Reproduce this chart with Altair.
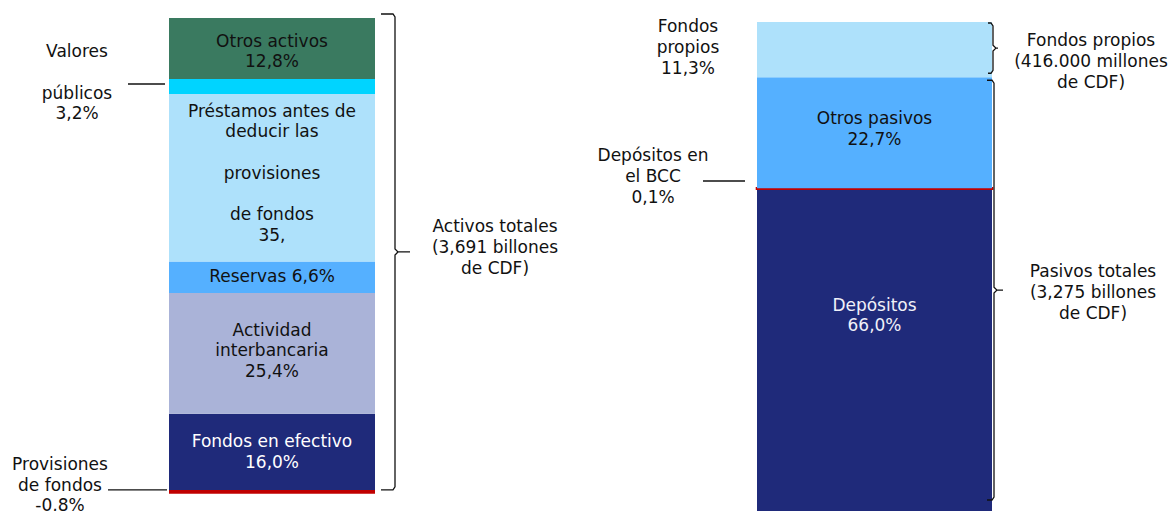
import altair as alt
import pandas as pd

# ---------------- data ----------------
asset_names = ["Provisiones de fondos", "Fondos en efectivo", "Actividad interbancaria",
               "Reservas", "Préstamos antes de deducir las provisiones de fondos",
               "Valores públicos", "Otros activos"]
asset_shares = [-0.8, 16.0, 25.4, 6.6, 35.2, 3.2, 12.8]
asset_inner = ["", "Fondos en efectivo\n16,0%", "Actividad\ninterbancaria\n25,4%",
               "Reservas 6,6%",
               "Préstamos antes de\ndeducir las\n\nprovisiones\n\nde fondos\n35,",
               "", "Otros activos\n12,8%"]

liab_names = ["Depósitos", "Depósitos en el BCC", "Otros pasivos", "Fondos propios"]
liab_shares = [66.0, 0.1, 22.7, 11.3]
liab_inner = ["Depósitos\n66,0%", "", "Otros pasivos\n22,7%", ""]

callout_valores = "Valores\n\npúblicos\n3,2%"
callout_provis = "Provisiones\nde fondos\n-0,8%"
callout_fp = "Fondos\npropios\n11,3%"
callout_bcc = "Depósitos en\nel BCC\n0,1%"
brace_activos = "Activos totales\n(3,691 billones\nde CDF)"
brace_fp = "Fondos propios\n(416.000 millones\nde CDF)"
brace_pasivos = "Pasivos totales\n(3,275 billones\nde CDF)"

# ---------------- styles / layout ----------------
asset_colors = ["#c00000", "#1f2a7a", "#aab3d8", "#55b0ff", "#aee1fb", "#00d4ff", "#3a7a60"]
liab_colors = ["#1f2a7a", "#c00000", "#55b0ff", "#aee1fb"]
asset_tcolor = ["#111111", "#ffffff", "#111111", "#111111", "#111111", "#111111", "#111111"]
liab_tcolor = ["#f0f0f8", "#111111", "#111111", "#111111"]
asset_nudge = [0, 1, -2, 0, -4, 0, 3.5]      # px, downward
liab_nudge = [-34, 0, -3.5, 0]

FONT = "DejaVu Sans"
FS = 17
LH = 20.7
W, H = 1160, 503
kL, kR = 4.757, 4.89          # px per percentage point
topL_px, topR_px = 10, 14     # top of each stack in plot px
L_X0, L_X1 = 161, 367
R_X0, R_X1 = 749, 984


def stack(shares):
    base = sum(s for s in shares if s < 0)
    lo, hi, cur = [], [], base
    for s in shares:
        lo.append(cur)
        hi.append(cur + abs(s))
        cur += abs(s)
    return lo, hi


def lines_of(text, x, center, k, color="#111111"):
    """Split a block into one row per line, centred vertically on `center`."""
    parts = text.split("\n")
    n = len(parts)
    rows = []
    for i, p in enumerate(parts):
        if p == "":
            continue
        rows.append({"tx": x, "ty": center - (i - (n - 1) / 2) * LH / k,
                     "t": p, "tc": color})
    return rows


loL, hiL = stack(asset_shares)
loR, hiR = stack(liab_shares)
topL, topR = hiL[-1], hiR[-1]
dL1 = topL + topL_px / kL
dL0 = dL1 - H / kL
dR1 = topR + topR_px / kR
dR0 = dR1 - H / kR

xs = alt.Scale(domain=[0, W], nice=False, zero=False)
ysL = alt.Scale(domain=[dL0, dL1], nice=False, zero=False)
ysR = alt.Scale(domain=[dR0, dR1], nice=False, zero=False)

dfL = pd.DataFrame({"name": asset_names, "lo": loL, "hi": hiL, "color": asset_colors})
dfL["x0"], dfL["x1"] = L_X0, L_X1
dfL["sw"] = 0

dfR = pd.DataFrame({"name": liab_names, "lo": loR, "hi": hiR, "color": liab_colors})
dfR["x0"], dfR["x1"] = R_X0, R_X1
dfR["sw"] = [0, 2.6, 0, 0]

innerL = []
for lo, hi, nd, t, c in zip(loL, hiL, asset_nudge, asset_inner, asset_tcolor):
    innerL += lines_of(t, (L_X0 + L_X1) / 2, (lo + hi) / 2 - nd / kL, kL, c)
innerR = []
for lo, hi, nd, t, c in zip(loR, hiR, liab_nudge, liab_inner, liab_tcolor):
    innerR += lines_of(t, (R_X0 + R_X1) / 2, (lo + hi) / 2 - nd / kR, kR, c)


def mid(lo, hi, i):
    return (lo[i] + hi[i]) / 2


def brace_pts(key, top, bot, xh, xv, xt, k):
    m = (top + bot) / 2
    r = 3 / k
    pts = [(xh, top), (xv - 2, top), (xv, top - r), (xv, m + r), (xv + 3, m), (xt, m),
           (xv + 3, m), (xv, m - r), (xv, bot + r), (xv - 2, bot), (xh, bot)]
    return [{"key": key, "o": i, "bx": p[0], "by": p[1]} for i, p in enumerate(pts)]


def bars(df, ys):
    return alt.Chart(df).mark_rect().encode(
        x=alt.X("x0:Q", scale=xs, axis=None), x2="x1",
        y=alt.Y("lo:Q", scale=ys, axis=None), y2="hi",
        color=alt.Color("color:N", scale=None),
        stroke=alt.Color("color:N", scale=None),
        strokeWidth=alt.StrokeWidth("sw:Q", scale=None),
    )


def texts(rows, ys):
    return alt.Chart(pd.DataFrame(rows)).mark_text(
        font=FONT, fontSize=FS, baseline="middle"
    ).encode(
        x=alt.X("tx:Q", scale=xs, axis=None),
        y=alt.Y("ty:Q", scale=ys, axis=None),
        text="t:N",
        color=alt.Color("tc:N", scale=None),
    )


def leaders(rows, ys):
    return alt.Chart(pd.DataFrame(rows)).mark_rule(color="#111111", strokeWidth=1.3).encode(
        x=alt.X("a:Q", scale=xs, axis=None), x2="b",
        y=alt.Y("ly:Q", scale=ys, axis=None),
    )


def braces(pts, ys):
    return alt.Chart(pd.DataFrame(pts)).mark_line(color="#111111", strokeWidth=1.3).encode(
        x=alt.X("bx:Q", scale=xs, axis=None),
        y=alt.Y("by:Q", scale=ys, axis=None),
        detail="key:N", order="o:Q",
    )


# ---------- left (activos) ----------
braceL_top = topL + 4 / kL
braceL_bot = loL[1]
braceL_mid = (braceL_top + braceL_bot) / 2
outerL = (lines_of(callout_valores, 69, mid(loL, hiL, 5) + 3.3 / kL, kL)
          + lines_of(callout_provis, 52, mid(loL, hiL, 0) + 6 / kL, kL)
          + lines_of(brace_activos, 487, braceL_mid + 4 / kL, kL))
left = alt.layer(
    bars(dfL, ysL),
    texts(innerL, ysL),
    braces(brace_pts("act", braceL_top, braceL_bot, 373, 387, 402, kL), ysL),
    leaders([{"a": 120, "b": 157, "ly": mid(loL, hiL, 5) + 2.5 / kL},
             {"a": 100, "b": 159, "ly": mid(loL, hiL, 0) + 2 / kL}], ysL),
    texts(outerL, ysL),
)

# ---------- right (pasivos) ----------
fp_top, fp_bot = hiR[3] - 1 / kR, loR[3] + 4 / kR
pt_top, pt_bot = hiR[2] - 3 / kR, loR[0] + 11.5 / kR
outerR = (lines_of(callout_fp, 680, mid(loR, hiR, 3) + 1.5 / kR, kR)
          + lines_of(callout_bcc, 645, mid(loR, hiR, 1) + 11.5 / kR, kR)
          + lines_of(brace_fp, 1083, (fp_top + fp_bot) / 2 - 14 / kR, kR)
          + lines_of(brace_pasivos, 1085, (pt_top + pt_bot) / 2 - 3 / kR, kR))
right = alt.layer(
    bars(dfR, ysR),
    texts(innerR, ysR),
    braces(brace_pts("fp", fp_top, fp_bot, 980, 985, 990, kR)
           + brace_pts("pt", pt_top, pt_bot, 979, 986, 995, kR), ysR),
    leaders([{"a": 695, "b": 737, "ly": mid(loR, hiR, 1) + 7.5 / kR}], ysR),
    texts(outerR, ysR),
)

chart = alt.layer(left, right).resolve_scale(y="independent").properties(
    width=W, height=H, padding=0, autosize=alt.AutoSizeParams(type="none"),
    background="white",
).configure_view(stroke=None)

chart.save("out.html", embed_options={"renderer": "svg", "actions": False})
